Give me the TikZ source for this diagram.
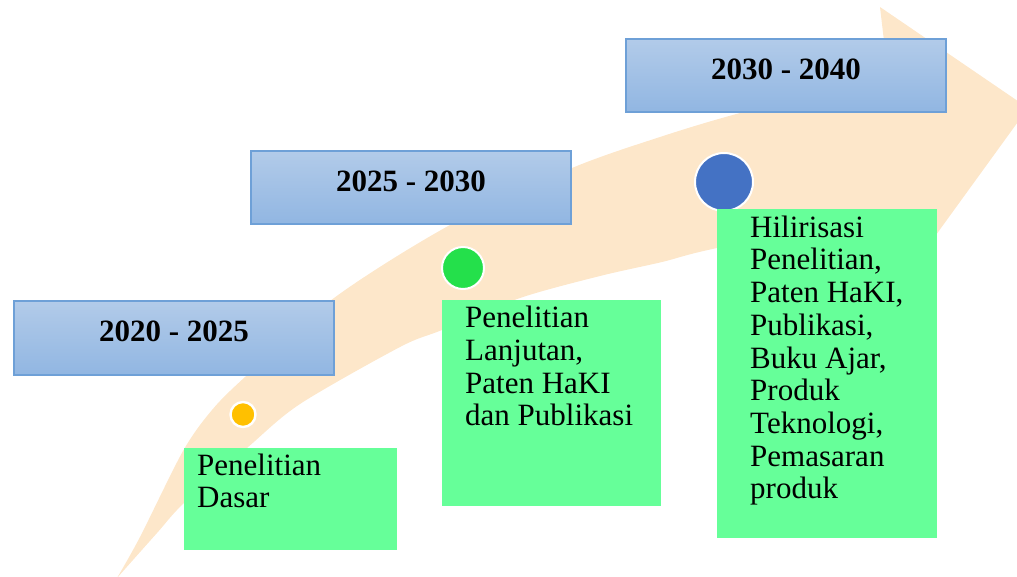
\documentclass[tikz,border=0pt]{standalone}
\usepackage{fontspec}
\setmainfont{Liberation Serif}
\definecolor{band}{RGB}{253,231,202}
\definecolor{yearTop}{RGB}{178,203,233}
\definecolor{yearBot}{RGB}{145,182,226}
\definecolor{yearLine}{RGB}{110,160,215}
\definecolor{noteGreen}{RGB}{102,255,153}
\definecolor{dotYellow}{RGB}{255,192,0}
\definecolor{dotGreen}{RGB}{36,224,75}
\definecolor{dotBlue}{RGB}{68,114,196}
\begin{document}
\begin{tikzpicture}[x=1pt,y=-1pt,
 yearbox/.style={draw=yearLine, line width=1.2pt, top color=yearTop, bottom color=yearBot, minimum width=320pt, minimum height=73pt, anchor=north west, inner sep=0pt, outer sep=0pt},
 yeartext/.style={anchor=base, font=\fontsize{31}{33}\selectfont\bfseries, inner sep=0pt},
 notebox/.style={fill=noteGreen, anchor=north west, inner sep=0pt, outer sep=0pt},
 notetext/.style={anchor=north west, align=left, inner sep=0pt, font=\fontsize{31}{32.7}\selectfont},
 dot/.style={circle, draw=white, inner sep=0pt}]
\useasboundingbox (0,0) rectangle (1017,576);
\begin{scope}
\clip (0,0) rectangle (1017,576);
\fill[band] plot[smooth] coordinates {(117,578) (140,537) (183,451) (212,410) (245,377) (334,298) (450,225) (572,168) (660,137) (740,113) (888,75)}
  -- (880,7) -- (1028,108) -- (912,268) -- (905,210)
  -- plot[smooth] coordinates {(905,210) (717,248) (662,262) (600,276) (520,298) (442,330) (400,347) (300,404) (247,448) (184,503) (157,533) (117,578)} -- cycle;
\end{scope}
% year boxes
\node[yearbox, minimum height=74pt] (y1) at (14,301) {};
\node[yearbox] (y2) at (251,151) {};
\node[yearbox] (y3) at (626,39) {};
\node[yeartext] (t1) at (174,341.5) {2020 - 2025};
\node[yeartext] (t2) at (411,191) {2025 - 2030};
\node[yeartext] (t3) at (786,79.5) {2030 - 2040};
% dots
\node[dot, fill=dotYellow, line width=2.4pt, minimum size=25pt] (d1) at (243,414.5) {};
\node[dot, fill=dotGreen, line width=2pt, minimum size=42pt] (d2) at (463,268) {};
\node[dot, fill=dotBlue, line width=2pt, minimum size=58pt] (d3) at (724,182) {};
% note boxes
\node[notebox, minimum width=213pt, minimum height=102pt] (n1) at (184,448) {};
\node[notebox, minimum width=219pt, minimum height=206pt] (n2) at (442,300) {};
\node[notebox, minimum width=220pt, minimum height=329pt] (n3) at (717,209) {};
\node[notetext] (m1) at (197,453.5) {Penelitian\\Dasar};
\node[notetext] (m2) at (465,306) {Penelitian\\Lanjutan,\\Paten HaKI\\dan Publikasi};
\node[notetext] (m3) at (750,215.5) {Hilirisasi\\Penelitian,\\Paten HaKI,\\Publikasi,\\Buku Ajar,\\Produk\\Teknologi,\\Pemasaran\\produk};
\end{tikzpicture}
\end{document}
